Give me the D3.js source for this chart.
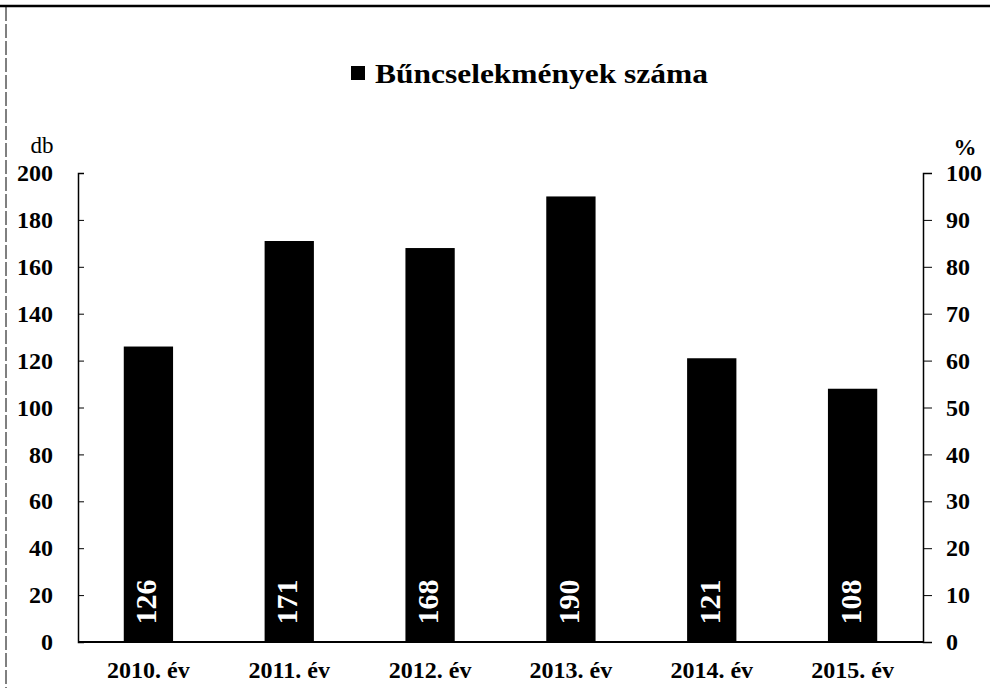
<!DOCTYPE html>
<html lang="hu">
<head>
<meta charset="UTF-8">
<title>Bűncselekmények száma</title>
<script src="https://cdn.jsdelivr.net/npm/d3@7"></script>
<style>
  body { margin: 0; background: #fff; }
  svg { display: block; font-family: "Liberation Serif", "Times New Roman", serif; }
  .tick line { stroke: #000; }
  .domain { stroke: #000; }
</style>
</head>
<body>
<svg id="chart" width="990" height="688"></svg>
<script>
// adatok
const years = ["2010. év", "2011. év", "2012. év", "2013. év", "2014. év", "2015. év"];
const crimes = [126, 171, 168, 190, 121, 108];
const leftTicks = [0, 20, 40, 60, 80, 100, 120, 140, 160, 180, 200];
const rightTicks = [0, 10, 20, 30, 40, 50, 60, 70, 80, 90, 100];
const seriesName = "Bűncselekmények száma";

const svg = d3.select("#chart");
const margin = {left: 78, right: 67, top: 173, bottom: 46};
const W = 990, H = 688;

const x = d3.scaleBand().domain(years)
  .range([margin.left, W - margin.right])
  .paddingInner(0.65).paddingOuter(0.325);
const y = d3.scaleLinear().domain([0, 200]).range([H - margin.bottom, margin.top]);
const y2 = d3.scaleLinear().domain([0, 100]).range([H - margin.bottom, margin.top]);

// keret (beolvasott oldal széle)
svg.append("line").attr("x1", 0).attr("x2", W).attr("y1", 6).attr("y2", 6)
  .attr("stroke", "#000").attr("stroke-width", 2.5);
svg.append("line").attr("x1", 6).attr("x2", 6).attr("y1", 7).attr("y2", H)
  .attr("stroke", "#000").attr("stroke-width", 1).attr("stroke-dasharray", "14 3");

// oszlopok
svg.append("g").selectAll("rect").data(crimes).join("rect")
  .attr("x", (d, i) => x(years[i]))
  .attr("y", d => y(d))
  .attr("width", x.bandwidth())
  .attr("height", d => y(0) - y(d))
  .attr("fill", "#000");

// értékcímkék az oszlopokban
svg.append("g").selectAll("text").data(crimes).join("text")
  .attr("transform", (d, i) => `translate(${x(years[i]) + x.bandwidth() / 2 + 8},${y(0) - 40}) rotate(-90)`)
  .attr("text-anchor", "middle")
  .attr("fill", "#fff")
  .attr("font-weight", "bold")
  .attr("font-size", 30)
  .text(d => d);

// bal tengely
const gl = svg.append("g").attr("transform", `translate(${margin.left},0)`)
  .call(d3.axisLeft(y).tickValues(leftTicks).tickSize(-6).tickPadding(25));
gl.selectAll("text").attr("font-size", 24).attr("font-weight", "bold")
  .attr("font-family", "Liberation Serif, serif").attr("fill", "#000");
gl.select(".domain").attr("stroke-width", 1.5);

// jobb tengely
const gr = svg.append("g").attr("transform", `translate(${W - margin.right},0)`)
  .call(d3.axisRight(y2).tickValues(rightTicks).tickSize(9).tickPadding(14));
gr.selectAll("text").attr("font-size", 24).attr("font-weight", "bold")
  .attr("font-family", "Liberation Serif, serif").attr("fill", "#000");
gr.select(".domain").attr("stroke-width", 1.5);

// vízszintes tengely
const gx = svg.append("g").attr("transform", `translate(0,${y(0)})`)
  .call(d3.axisBottom(x).tickSize(0).tickPadding(16));
gx.select(".domain").attr("stroke-width", 2).attr("d", `M${margin.left},0H${W - margin.right}`);
gx.selectAll("text").attr("font-size", 24).attr("font-weight", "bold")
  .attr("font-family", "Liberation Serif, serif").attr("fill", "#000")
  .attr("dy", "0.85em");

// tengelyfeliratok
svg.append("text").attr("x", 42).attr("y", 153).attr("text-anchor", "middle")
  .attr("font-size", 23).text("db");
svg.append("text").attr("x", 965).attr("y", 155).attr("text-anchor", "middle")
  .attr("font-size", 23).attr("font-weight", "bold").text("%");

// jelmagyarázat
svg.append("rect").attr("x", 351).attr("y", 66).attr("width", 14).attr("height", 14).attr("fill", "#000");
svg.append("text").attr("x", 375).attr("y", 83)
  .attr("font-size", 28).attr("font-weight", "bold")
  .attr("textLength", 333).attr("lengthAdjust", "spacingAndGlyphs")
  .text(seriesName);
</script>
</body>
</html>
